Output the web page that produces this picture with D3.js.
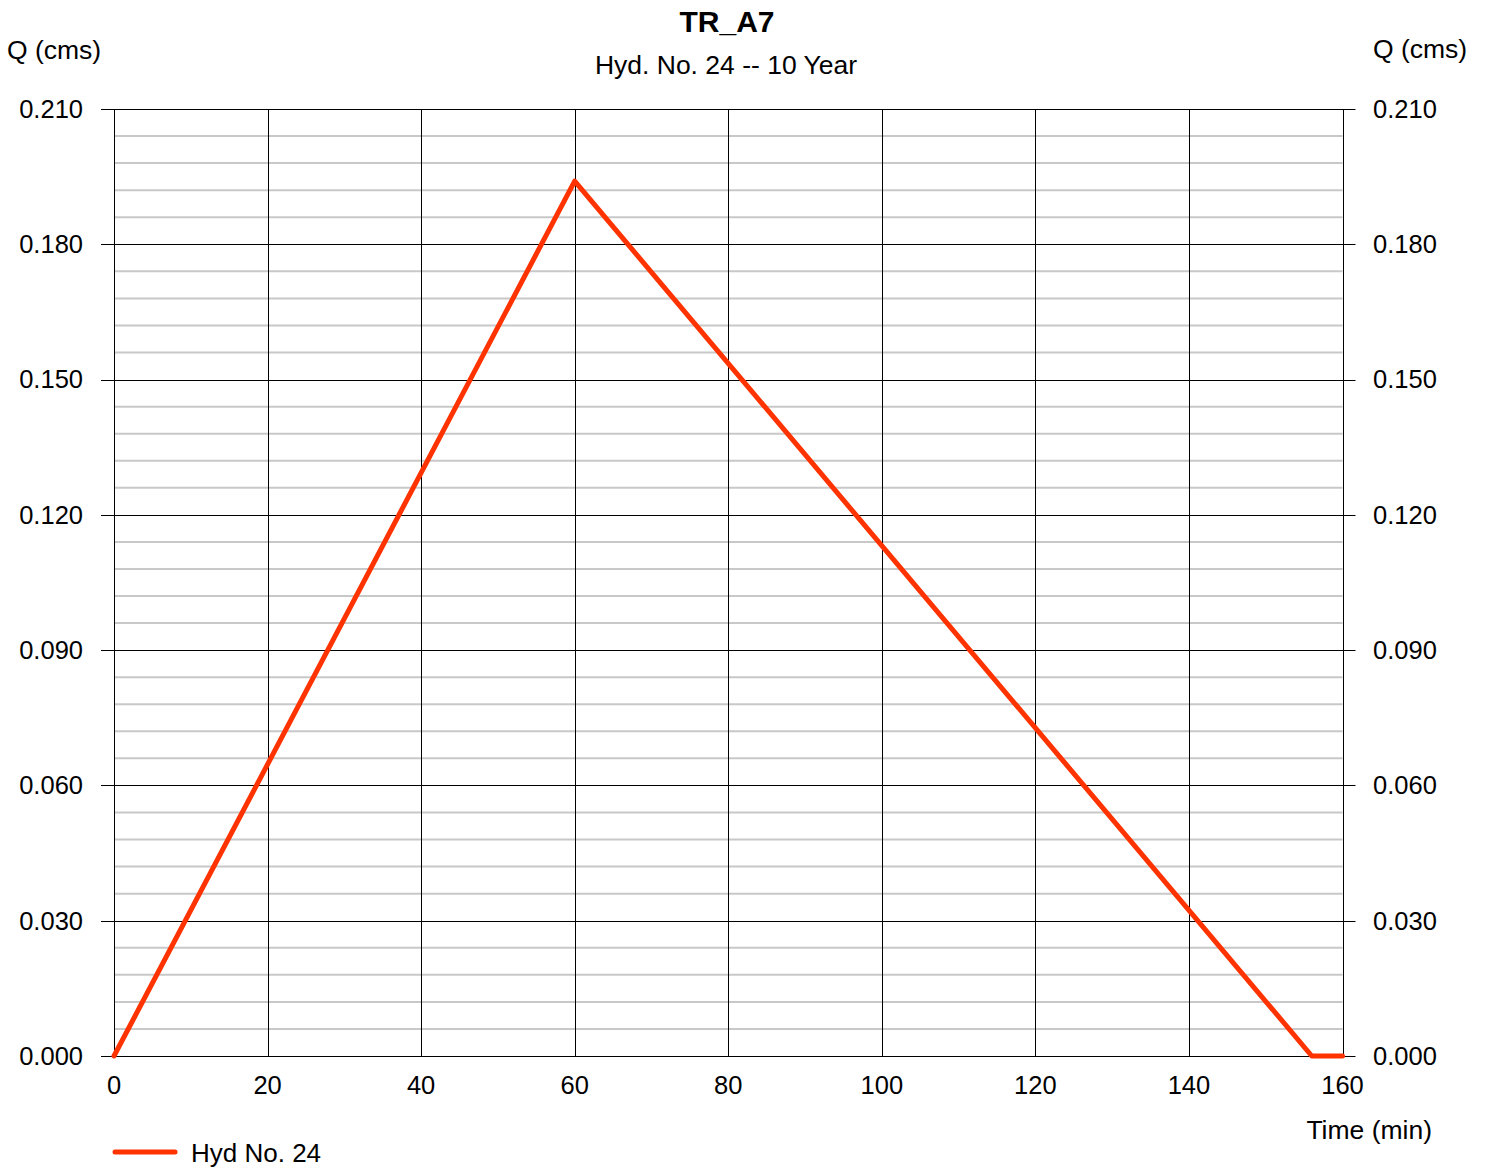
<!DOCTYPE html>
<html><head><meta charset="utf-8">
<script src="https://cdn.jsdelivr.net/npm/d3@7"></script>
<style>body{margin:0;background:#fff}svg{display:block;font-family:"Liberation Sans",Arial,sans-serif}</style>
</head><body>
<svg id="c" width="1486" height="1167"></svg>
<script>
const title = "TR_A7";
const subtitle = "Hyd. No. 24 -- 10 Year";
const seriesName = "Hyd No. 24";
const timeMin = [0, 60, 156, 160];
const flowCms = [0, 0.194, 0, 0];
const xTicks = [0, 20, 40, 60, 80, 100, 120, 140, 160];
const yTicks = [0, 0.03, 0.06, 0.09, 0.12, 0.15, 0.18, 0.21];
const yMinorStep = 0.006;

const svg = d3.select("#c");
const L = 114, R = 1342.5, T = 109, B = 1056;
const x = d3.scaleLinear().domain([0, 160]).range([L, R]);
const y = d3.scaleLinear().domain([0, 0.21]).range([B, T]);

// minor horizontal grid
const minor = d3.range(0, 0.21 + 1e-9, yMinorStep).filter((v, i) => i % 5 !== 0);
svg.append("g").selectAll("line").data(minor).join("line")
  .attr("x1", L).attr("x2", R).attr("y1", d => y(d)).attr("y2", d => y(d))
  .attr("stroke", "#c8c8c8").attr("stroke-width", 2);

// major horizontal grid with ticks outside
svg.append("g").selectAll("line").data(yTicks).join("line")
  .attr("x1", L - 13).attr("x2", R + 13)
  .attr("y1", d => Math.round(y(d)) + 0.5).attr("y2", d => Math.round(y(d)) + 0.5)
  .attr("stroke", "#000").attr("stroke-width", 1);

// vertical grid
svg.append("g").selectAll("line").data(xTicks).join("line")
  .attr("x1", d => Math.round(x(d)) + 0.5).attr("x2", d => Math.round(x(d)) + 0.5)
  .attr("y1", T).attr("y2", B)
  .attr("stroke", "#000").attr("stroke-width", 1);

const fmt = d3.format(".3f");
const fs = 25.5;
svg.append("g").selectAll("text").data(yTicks).join("text")
  .attr("x", 83).attr("y", d => y(d)).attr("dy", "0.35em")
  .attr("text-anchor", "end").attr("font-size", fs).text(fmt);
svg.append("g").selectAll("text").data(yTicks).join("text")
  .attr("x", 1373).attr("y", d => y(d)).attr("dy", "0.35em")
  .attr("text-anchor", "start").attr("font-size", fs).text(fmt);
svg.append("g").selectAll("text").data(xTicks).join("text")
  .attr("x", d => x(d)).attr("y", 1094)
  .attr("text-anchor", "middle").attr("font-size", fs).text(d => d);

// series
const pts = timeMin.map((t, i) => [t, flowCms[i]]);
svg.append("path").datum(pts)
  .attr("d", d3.line().x(d => x(d[0])).y(d => y(d[1])))
  .attr("fill", "none").attr("stroke", "#ff3300").attr("stroke-width", 5)
  .attr("stroke-linejoin", "round").attr("stroke-linecap", "round");

// titles
svg.append("text").attr("x", 727).attr("y", 32).attr("text-anchor", "middle")
  .attr("font-size", 30).attr("font-weight", "bold").text(title);
svg.append("text").attr("x", 726).attr("y", 74).attr("text-anchor", "middle")
  .attr("font-size", 26.5).text(subtitle);
svg.append("text").attr("x", 7).attr("y", 59).attr("font-size", 26.5).text("Q (cms)");
svg.append("text").attr("x", 1373).attr("y", 58).attr("font-size", 26.5).text("Q (cms)");
svg.append("text").attr("x", 1432).attr("y", 1139).attr("text-anchor", "end")
  .attr("font-size", 26.5).text("Time (min)");

// legend
svg.append("line").attr("x1", 115).attr("x2", 175).attr("y1", 1152).attr("y2", 1152)
  .attr("stroke", "#ff3300").attr("stroke-width", 5).attr("stroke-linecap", "round");
svg.append("text").attr("x", 191).attr("y", 1162).attr("font-size", 26).text(seriesName);
</script>
</body></html>
